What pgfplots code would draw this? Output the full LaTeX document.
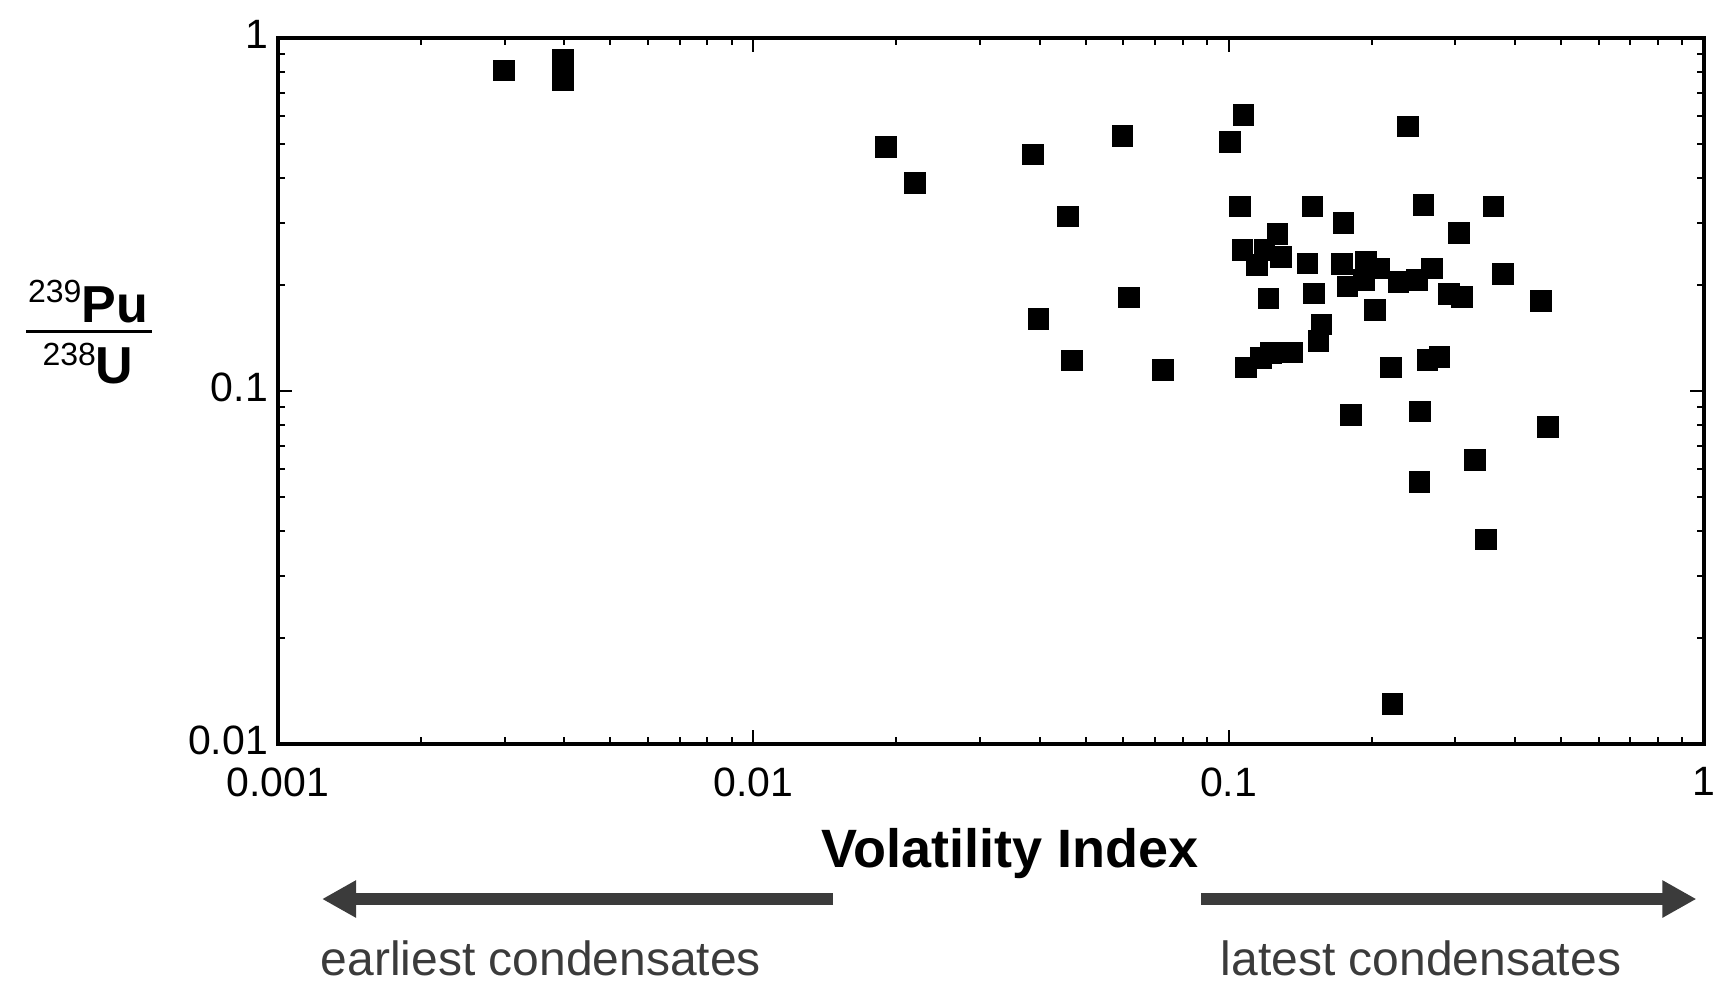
\documentclass[border=0pt]{standalone}
\usepackage{fontspec}
\setmainfont{Liberation Sans}
\usepackage{pgfplots}
\pgfplotsset{compat=1.18}
\usetikzlibrary{arrows.meta}
\definecolor{arrowgray}{RGB}{59,59,59}

\begin{document}
\begin{tikzpicture}
% picture is 1719 x 988 px at 0.25pt per px
\path[use as bounding box] (0,0) rectangle (429.75pt,247pt);

\begin{axis}[
  at={(69.5pt,61pt)}, anchor=south west,
  scale only axis,
  width=356.5pt, height=176.5pt,
  xmode=log, ymode=log,
  xmin=0.001, xmax=1, ymin=0.01, ymax=1,
  xtick={0.001,0.01,0.1,1},
  xticklabels={0.001,0.01,0.1,1},
  ytick={0.01,0.1,1},
  yticklabels={0.01,0.1,1},
  tick label style={font=\fontsize{10.25pt}{12pt}\selectfont},
  xticklabel style={yshift=-2.4pt},
  yticklabel style={xshift=1pt, yshift=0.8pt},
  axis line style={line width=1.1pt},
  every tick/.style={black, line width=0.5pt},
  major tick length=3.5pt,
  minor tick length=1.75pt,
  tick align=inside,
]
\addplot[only marks, mark=square*, mark size=2.5pt, black] table {
x y
0.00299 0.81
0.00398 0.87
0.00398 0.76
0.0190 0.492
0.0219 0.389
0.0388 0.468
0.0459 0.312
0.0398 0.160
0.0468 0.122
0.0598 0.528
0.0618 0.184
0.0727 0.1147
0.1006 0.508
0.1075 0.605
0.2384 0.561
0.1057 0.333
0.150 0.333
0.1743 0.299
0.257 0.336
0.361 0.333
0.305 0.280
0.1266 0.278
0.107 0.251
0.1189 0.251
0.1287 0.240
0.1148 0.2275
0.1466 0.230
0.1734 0.229
0.1945 0.2325
0.207 0.2226
0.1928 0.206
0.178 0.1975
0.2278 0.204
0.249 0.206
0.268 0.2226
0.3774 0.2145
0.291 0.188
0.310 0.185
0.454 0.180
0.1212 0.183
0.151 0.189
0.203 0.1696
0.1567 0.1545
0.1545 0.1388
0.1363 0.1284
0.1228 0.128
0.1168 0.124
0.1089 0.1167
0.2197 0.1167
0.262 0.1225
0.2775 0.125
0.181 0.0855
0.253 0.0874
0.470 0.0792
0.3296 0.0637
0.252 0.0553
0.3475 0.038
0.2213 0.01296
};
\end{axis}

% axis title
\node[anchor=base, inner sep=0pt, font=\fontsize{13.5pt}{16pt}\selectfont\bfseries]
  at (252.5pt,30.25pt) {Volatility Index};

% y label as a fraction
\node[anchor=base, inner sep=0pt, font=\fontsize{13pt}{15pt}\selectfont\bfseries]
  at (22pt,166.5pt) {\raisebox{5pt}{\fontsize{8pt}{9pt}\selectfont\mdseries 239}Pu};
\draw[line width=0.75pt] (6.5pt,164.25pt) -- (38pt,164.25pt);
\node[anchor=base, inner sep=0pt, font=\fontsize{13pt}{15pt}\selectfont\bfseries]
  at (22pt,151.25pt) {\raisebox{4.5pt}{\fontsize{8pt}{9pt}\selectfont\mdseries 238}U};

% condensation arrows
\draw[arrowgray, line width=3pt, -{Triangle[length=8.5pt,width=8.75pt]}]
  (208.25pt,22.25pt) -- (80.5pt,22.25pt);
\draw[arrowgray, line width=3pt, -{Triangle[length=8.5pt,width=8.75pt]}]
  (300.25pt,22.25pt) -- (424.1pt,22.25pt);
\node[anchor=base west, inner sep=0pt, text=arrowgray, font=\fontsize{12pt}{14pt}\selectfont]
  at (80pt,3.25pt) {earliest condensates};
\node[anchor=base west, inner sep=0pt, text=arrowgray, font=\fontsize{12pt}{14pt}\selectfont]
  at (305pt,3.25pt) {latest condensates};
\end{tikzpicture}
\end{document}
